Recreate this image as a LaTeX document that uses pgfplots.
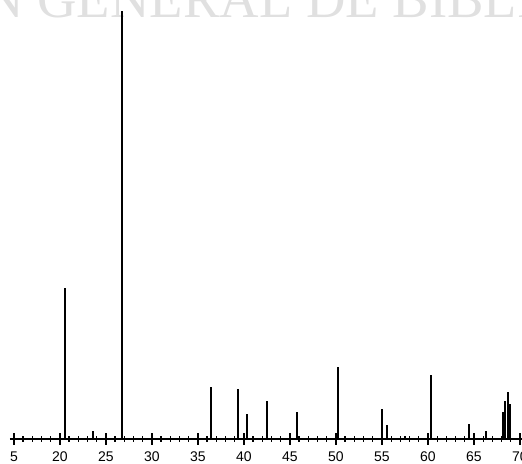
\documentclass[border=0pt]{standalone}
\usepackage{pgfplots}
\pgfplotsset{compat=1.18}
\usepackage{fontspec}
\setmainfont{Liberation Sans}
\newfontfamily\wmfont{Liberation Serif}
\begin{document}
\begin{tikzpicture}
\node[anchor=base west, inner sep=0pt, text=black!12, font=\wmfont\fontsize{41}{41}\selectfont] at (-19.5pt,315.75pt) {N GENERAL DE BIBLI};
\begin{axis}[
  at={(0,0)}, anchor=south west,
  scale only axis, width=384pt, height=329.25pt,
  xmin=14.57, xmax=70.22, ymin=0, ymax=439,
  axis x line=bottom, axis y line=none,
  axis line style={line width=1.4pt, -},
  xtick={15,20,...,70},
  xticklabels={5,20,25,30,35,40,45,50,55,60,65,70},
  minor x tick num=4,
  tick align=center, major tick length=9pt, minor tick length=4.5pt,
  every tick/.style={black, line width=1pt},
  xticklabel style={font=\fontsize{10.5}{10.5}\selectfont, inner sep=1pt, yshift=-4pt},
  ytick=\empty,
  clip=false,
]
\addplot[ycomb, line width=1.3pt, black, mark=none] coordinates {
(20.54,151) (23.59,8) (36.41,52) (39.35,50) (40.33,25) (42.50,38)
(45.76,27) (50.22,72) (55.00,30) (55.54,14) (57.50,3) (60.33,64)
(64.46,15) (66.30,8) (68.15,27) (68.37,38) (68.70,47) (68.91,35)
};
\addplot[ycomb, line width=1.8pt, black, mark=none] coordinates {
(26.74,428)
};
\end{axis}
\pgfresetboundingbox
\useasboundingbox (-7.5pt,-18.75pt) rectangle (384pt,329.25pt);
\end{tikzpicture}
\end{document}
